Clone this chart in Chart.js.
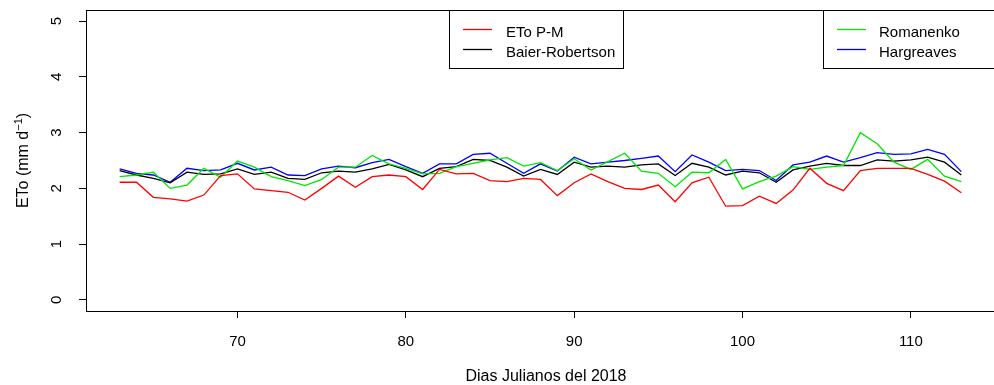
<!DOCTYPE html>
<html lang="es">
<head>
<meta charset="UTF-8">
<title>ETo diaria</title>
<script src="https://cdn.jsdelivr.net/npm/chart.js"></script>
<style>
  body { margin: 0; overflow: hidden; background: #fff; }
  #caja { width: 1000px; height: 385px; }
</style>
</head>
<body>
<div id="caja"><canvas id="grafico" width="1000" height="385"></canvas></div>
<script>
// dias julianos (eje x)
const dias = [63, 64, 65, 66, 67, 68, 69, 70, 71, 72, 73, 74, 75, 76, 77, 78, 79,
  80, 81, 82, 83, 84, 85, 86, 87, 88, 89, 90, 91, 92, 93, 94, 95, 96, 97, 98, 99,
  100, 101, 102, 103, 104, 105, 106, 107, 108, 109, 110, 111, 112, 113];

// ETo (mm/dia) por metodo
const etoPM = [2.11, 2.11, 1.84, 1.81, 1.77, 1.88, 2.23, 2.26, 1.99, 1.96, 1.93, 1.79, 2.00,
  2.22, 2.02, 2.21, 2.24, 2.21, 1.98, 2.34, 2.26, 2.27, 2.14, 2.12, 2.18, 2.16, 1.87,
  2.10, 2.26, 2.12, 2.00, 1.98, 2.06, 1.76, 2.10, 2.20, 1.68, 1.69, 1.86, 1.73, 1.97,
  2.36, 2.09, 1.96, 2.32, 2.36, 2.36, 2.36, 2.25, 2.13, 1.92];
const romanenko = [2.21, 2.24, 2.29, 2.00, 2.06, 2.36, 2.20, 2.49, 2.38, 2.21, 2.14, 2.05, 2.16,
  2.38, 2.38, 2.59, 2.44, 2.36, 2.26, 2.27, 2.39, 2.45, 2.51, 2.55, 2.40, 2.46, 2.32,
  2.53, 2.33, 2.48, 2.63, 2.31, 2.27, 2.03, 2.29, 2.28, 2.52, 1.99, 2.12, 2.22, 2.39,
  2.34, 2.38, 2.41, 3.00, 2.80, 2.47, 2.34, 2.52, 2.22, 2.12];
const baierRobertson = [2.32, 2.24, 2.18, 2.10, 2.29, 2.25, 2.26, 2.35, 2.25, 2.29, 2.18, 2.16, 2.28,
  2.31, 2.29, 2.35, 2.43, 2.33, 2.21, 2.36, 2.39, 2.52, 2.50, 2.38, 2.22, 2.34, 2.25,
  2.47, 2.38, 2.40, 2.38, 2.42, 2.44, 2.23, 2.45, 2.38, 2.24, 2.31, 2.28, 2.11, 2.33,
  2.40, 2.45, 2.41, 2.41, 2.51, 2.49, 2.51, 2.56, 2.47, 2.24];
const hargreaves = [2.35, 2.27, 2.24, 2.11, 2.36, 2.32, 2.33, 2.45, 2.33, 2.38, 2.24, 2.23, 2.35,
  2.40, 2.37, 2.46, 2.52, 2.39, 2.27, 2.44, 2.44, 2.61, 2.63, 2.45, 2.27, 2.44, 2.31,
  2.56, 2.44, 2.47, 2.50, 2.54, 2.58, 2.30, 2.60, 2.47, 2.32, 2.34, 2.32, 2.14, 2.42,
  2.47, 2.58, 2.47, 2.55, 2.64, 2.61, 2.62, 2.70, 2.61, 2.30];

const ticksX = [70, 80, 90, 100, 110];
const ticksY = [0, 1, 2, 3, 4, 5];

const nombres = ['ETo P-M', 'Romanenko', 'Baier-Robertson', 'Hargreaves'];
const colores = ['#ff0000', '#00e600', '#000000', '#0000ff'];

const fuente = '"Liberation Sans", Arial, sans-serif';

function serie(valores) {
  return dias.map((d, i) => ({ x: d, y: valores[i] }));
}

function linea(i, valores) {
  return {
    label: nombres[i],
    data: serie(valores),
    borderColor: colores[i],
    backgroundColor: colores[i],
    borderWidth: 1.3,
    pointRadius: 0,
    tension: 0,
    fill: false
  };
}

const datasets = [
  linea(0, etoPM),
  linea(1, romanenko),
  linea(2, baierRobertson),
  linea(3, hargreaves)
];

// cajas de leyenda (ancho null = hasta el borde del grafico)
const leyendas = [
  { series: [0, 2], x: 449, ancho: 174, xLinea: 463, xTexto: 506 },
  { series: [1, 3], x: 823, ancho: null, xLinea: 837, xTexto: 879 }
];

const decoracion = {
  id: 'decoracion',
  afterDraw(chart) {
    const { ctx, chartArea: a, scales: { y } } = chart;
    ctx.save();
    ctx.strokeStyle = '#000';
    ctx.lineWidth = 1;
    ctx.strokeRect(Math.round(a.left) + 0.5, Math.round(a.top) + 0.5,
      Math.round(a.right - a.left), Math.round(a.bottom - a.top));

    ctx.fillStyle = '#000';
    ctx.font = '15px ' + fuente;

    // etiquetas del eje y (giradas, como en R)
    ctx.textAlign = 'center';
    ctx.textBaseline = 'middle';
    ticksY.forEach(v => {
      ctx.save();
      ctx.translate(57, y.getPixelForValue(v));
      ctx.rotate(-Math.PI / 2);
      ctx.fillText(String(v), 0, 0);
      ctx.restore();
    });

    // titulo eje x
    ctx.textBaseline = 'alphabetic';
    ctx.font = '16px ' + fuente;
    ctx.fillText('Dias Julianos del 2018', 546, 381);

    // titulo eje y con superindice
    const base = 'ETo (mm d', sup = '\u22121', cierre = ')';
    ctx.font = '16px ' + fuente;
    const wBase = ctx.measureText(base).width;
    const wCierre = ctx.measureText(cierre).width;
    ctx.font = '11px ' + fuente;
    const wSup = ctx.measureText(sup).width;
    const total = wBase + wSup + wCierre;
    ctx.save();
    ctx.translate(28, (a.top + a.bottom) / 2);
    ctx.rotate(-Math.PI / 2);
    ctx.textAlign = 'left';
    ctx.font = '16px ' + fuente;
    ctx.fillText(base, -total / 2, 0);
    ctx.font = '11px ' + fuente;
    ctx.fillText(sup, -total / 2 + wBase, -6);
    ctx.font = '16px ' + fuente;
    ctx.fillText(cierre, -total / 2 + wBase + wSup, 0);
    ctx.restore();

    // leyendas
    leyendas.forEach(l => {
      const ancho = l.ancho === null ? a.right - l.x : l.ancho;
      ctx.fillStyle = '#fff';
      ctx.fillRect(l.x, a.top, ancho, 58);
      ctx.strokeStyle = '#000';
      ctx.lineWidth = 1;
      ctx.strokeRect(l.x + 0.5, Math.round(a.top) + 0.5, ancho, 58);
      l.series.forEach((idx, k) => {
        const yl = Math.round(a.top) + 19.5 + k * 20;
        ctx.strokeStyle = colores[idx];
        ctx.lineWidth = 1.3;
        ctx.beginPath();
        ctx.moveTo(l.xLinea, yl);
        ctx.lineTo(l.xLinea + 29, yl);
        ctx.stroke();
        ctx.fillStyle = '#000';
        ctx.font = '15px ' + fuente;
        ctx.textAlign = 'left';
        ctx.textBaseline = 'alphabetic';
        ctx.fillText(nombres[idx], l.xTexto, yl + 7.5);
      });
    });
    ctx.restore();
  }
};

new Chart(document.getElementById('grafico'), {
  type: 'line',
  data: { datasets: datasets },
  options: {
    responsive: false,
    animation: false,
    devicePixelRatio: 1,
    layout: { padding: { top: 10, right: 5, left: 0, bottom: 0 } },
    plugins: { legend: { display: false }, tooltip: { enabled: false } },
    scales: {
      x: {
        type: 'linear',
        min: 61,
        max: 115,
        afterBuildTicks: s => { s.ticks = ticksX.map(v => ({ value: v })); },
        afterFit: s => { s.height = 74; },
        border: { display: false },
        grid: { drawOnChartArea: false, color: '#000', tickLength: 7, lineWidth: 1 },
        ticks: { color: '#000', font: { family: fuente, size: 15 }, padding: 15, maxRotation: 0 }
      },
      y: {
        min: -0.2,
        max: 5.2,
        afterBuildTicks: s => { s.ticks = ticksY.map(v => ({ value: v })); },
        afterFit: s => { s.width = 86; },
        border: { display: false },
        grid: { drawOnChartArea: false, color: '#000', tickLength: 7, lineWidth: 1 },
        ticks: { display: false }
      }
    }
  },
  plugins: [decoracion]
});
</script>
</body>
</html>
